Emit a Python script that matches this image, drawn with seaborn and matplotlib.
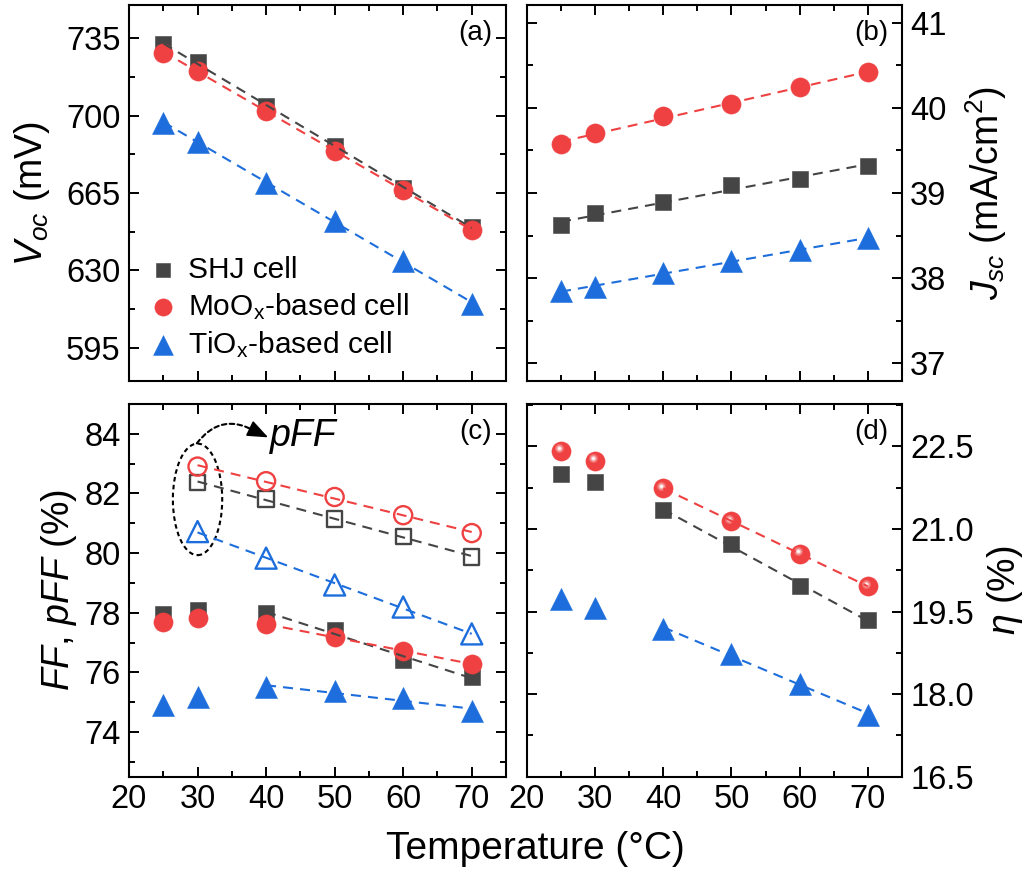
import numpy as np
import pandas as pd
import matplotlib
matplotlib.use("Agg")
import matplotlib.pyplot as plt
from matplotlib.patches import Ellipse
from matplotlib.ticker import MultipleLocator, FormatStrFormatter
from matplotlib.transforms import ScaledTranslation
import seaborn as sns

# ---- measured data -------------------------------------------------------
temps = [25, 30, 40, 50, 60, 70]
pff_temps = [30, 40, 50, 60, 70]

voc_shj = [732.3, 724.0, 704.5, 686.4, 667.4, 649.4]
voc_moox = [728.5, 720.3, 702.0, 684.0, 666.3, 648.2]
voc_tiox = [696.8, 688.0, 669.7, 652.4, 634.4, 614.8]

jsc_shj = [38.62, 38.76, 38.89, 39.09, 39.17, 39.32]
jsc_moox = [39.58, 39.70, 39.91, 40.05, 40.24, 40.42]
jsc_tiox = [37.85, 37.89, 38.06, 38.20, 38.33, 38.47]

ff_shj = [77.95, 78.09, 77.98, 77.42, 76.42, 75.84]
ff_moox = [77.70, 77.81, 77.61, 77.20, 76.70, 76.29]
ff_tiox = [74.91, 75.19, 75.50, 75.36, 75.14, 74.70]

pff_shj = [82.37, 81.81, 81.14, 80.56, 79.87]
pff_moox = [82.90, 82.41, 81.88, 81.27, 80.67]
pff_tiox = [80.72, 79.83, 78.93, 78.19, 77.29]

eta_shj = [22.00, 21.85, 21.34, 20.72, 19.97, 19.34]
eta_moox = [22.42, 22.24, 21.74, 21.14, 20.55, 19.96]
eta_tiox = [19.72, 19.57, 19.19, 18.72, 18.19, 17.63]

cells = ["SHJ cell", "MoO$_\\mathregular{x}$-based cell", "TiO$_\\mathregular{x}$-based cell"]
colors = ["#454545", "#EF4141", "#1D6EDC"]
markers = ["s", "o", "^"]
sizes = [135, 190, 250]

# ---- style ---------------------------------------------------------------
sns.set_style("ticks")
plt.rcParams["font.family"] = ["Liberation Sans", "DejaVu Sans"]
plt.rcParams["mathtext.fontset"] = "custom"
plt.rcParams["mathtext.rm"] = "Liberation Sans"
plt.rcParams["mathtext.it"] = "Liberation Sans:italic"
plt.rcParams["mathtext.bf"] = "Liberation Sans:bold"
for key in ("text.color", "axes.labelcolor", "xtick.color", "ytick.color", "axes.edgecolor"):
    plt.rcParams[key] = "black"
plt.rcParams["axes.linewidth"] = 1.5

fig = plt.figure(figsize=(10.27, 8.74), dpi=100)
ax_a = fig.add_axes([0.1256, 0.5641, 0.3671, 0.4302])
ax_b = fig.add_axes([0.5131, 0.5641, 0.3651, 0.4302])
ax_c = fig.add_axes([0.1256, 0.1113, 0.3671, 0.4265])
ax_d = fig.add_axes([0.5131, 0.1113, 0.3651, 0.4265])

DASH = dict(lw=1.5, dashes=(4.8, 3.4), zorder=4)


def points(ax, x, y, i, filled=True, label=None, size=None):
    s = sizes[i] if size is None else size
    if filled:
        sns.scatterplot(x=x, y=y, ax=ax, marker=markers[i], s=s, color=colors[i],
                        edgecolor=colors[i], linewidth=0.4, label=label, zorder=3,
                        legend=False)
    else:
        sns.scatterplot(x=x, y=y, ax=ax, marker=markers[i], s=s, facecolor="none",
                        edgecolor=colors[i], linewidth=1.7, zorder=3, legend=False)


def fit(ax, x, y, i):
    sns.regplot(x=np.asarray(x, float), y=np.asarray(y, float), ax=ax, scatter=False,
                ci=None, truncate=True, color=colors[i], line_kws=DASH)


# (a) Voc
for i, vals in enumerate([voc_shj, voc_moox, voc_tiox]):
    points(ax_a, temps, vals, i, label=cells[i])
    fit(ax_a, temps, vals, i)

# (b) Jsc
for i, vals in enumerate([jsc_shj, jsc_moox, jsc_tiox]):
    points(ax_b, temps, vals, i)
    fit(ax_b, temps, vals, i)

# (c) FF (filled, fit from 40 C) and pFF (open, fit from 30 C)
for i, vals in enumerate([ff_shj, ff_moox, ff_tiox]):
    points(ax_c, temps, vals, i)
    fit(ax_c, temps[2:], vals[2:], i)
open_sizes = [120, 170, 230]
for i, vals in enumerate([pff_shj, pff_moox, pff_tiox]):
    points(ax_c, pff_temps, vals, i, filled=False, size=open_sizes[i])
    fit(ax_c, pff_temps, vals, i)

# (d) efficiency
for i, vals in enumerate([eta_shj, eta_moox, eta_tiox]):
    points(ax_d, temps, vals, i)
    fit(ax_d, temps[2:], vals[2:], i)

# glossy highlight on the MoOx spheres (small light spot up-left of centre)
spot = ScaledTranslation(-2.0 / 100, 2.4 / 100, fig.dpi_scale_trans)
for sz, col in [(42, "#f26c6c"), (20, "#f7a3a3"), (8, "#fcdede"), (2.5, "#ffffff")]:
    ax_d.scatter(temps, eta_moox, s=sz, color=col, linewidths=0, zorder=3.5,
                 transform=ax_d.transData + spot)

# ---- axes formatting -----------------------------------------------------
limits = {ax_a: (580, 750), ax_b: (36.79, 41.21), ax_c: (72.5, 85.0), ax_d: (16.5, 23.27)}
majors = {ax_a: 35, ax_b: 1, ax_c: 2, ax_d: 1.5}
for ax in (ax_a, ax_b, ax_c, ax_d):
    ax.set_xlim(20, 75)
    ax.set_ylim(*limits[ax])
    ax.xaxis.set_major_locator(MultipleLocator(10))
    ax.xaxis.set_minor_locator(MultipleLocator(5))
    ax.yaxis.set_major_locator(MultipleLocator(majors[ax]))
    ax.yaxis.set_minor_locator(MultipleLocator(majors[ax] / 2))
    ax.tick_params(which="both", direction="in", top=True, bottom=True, left=True,
                   right=True, width=1.4, labelsize=23.5, colors="black")
    ax.tick_params(which="major", length=7)
    ax.tick_params(which="minor", length=4)
    ax.tick_params(axis="x", pad=5)
    ax.tick_params(axis="y", pad=6)
    for sp in ax.spines.values():
        sp.set_visible(True)
        sp.set_linewidth(1.5)
        sp.set_color("black")
    ax.set_xlabel("")

ax_d.yaxis.set_major_formatter(FormatStrFormatter("%.1f"))

for ax in (ax_a, ax_b):
    ax.tick_params(axis="x", labelbottom=False)
for ax in (ax_b, ax_d):
    ax.tick_params(axis="y", labelleft=False, labelright=True)
    ax.yaxis.set_label_position("right")

ax_a.set_ylabel("$V_{oc}$ (mV)", fontsize=27, labelpad=10)
ax_b.set_ylabel("$J_{sc}$ (mA/cm$^\\mathregular{2}$)", fontsize=27, labelpad=12)
ax_c.set_ylabel("$FF$, $pFF$ (%)", fontsize=27, labelpad=4)
ax_d.set_ylabel("$\\eta$ (%)", fontsize=27, labelpad=8)
fig.text(0.521, 0.029, "Temperature (°C)", fontsize=28, ha="center", va="center")

for ax, tag in zip((ax_a, ax_b, ax_c, ax_d), ("(a)", "(b)", "(c)", "(d)")):
    ax.text(0.963, 0.925, tag, transform=ax.transAxes, ha="right", va="center", fontsize=20)

ax_a.legend(loc="lower left", bbox_to_anchor=(-0.005, 0.008), frameon=False, fontsize=21.5,
            handletextpad=0.25, labelspacing=0.25, borderaxespad=0.2, markerscale=0.9,
            handlelength=1.2)

# pFF annotation: dashed ellipse around the 30 C points and a curved dashed arrow
ax_c.add_patch(Ellipse((30.0, 81.8), 7.2, 3.74, fill=False, ec="black", lw=1.5,
                       ls=(0, (2.2, 1.6)), zorder=2))
ax_c.annotate("", xy=(38.6, 84.06), xytext=(29.9, 83.68),
              arrowprops=dict(arrowstyle="-", connectionstyle="arc3,rad=-0.45",
                              color="black", lw=1.5, ls=(0, (2.2, 1.6)),
                              shrinkA=0, shrinkB=0))
ax_c.annotate("", xy=(40.3, 83.88), xytext=(38.5, 84.08),
              arrowprops=dict(arrowstyle="-|>,head_length=0.8,head_width=0.32",
                              color="black", lw=1.2, mutation_scale=16,
                              shrinkA=0, shrinkB=0))
ax_c.text(40.6, 83.6, "pFF", fontsize=27, style="italic", ha="left", va="baseline")

fig.savefig("out.png", dpi=100)
